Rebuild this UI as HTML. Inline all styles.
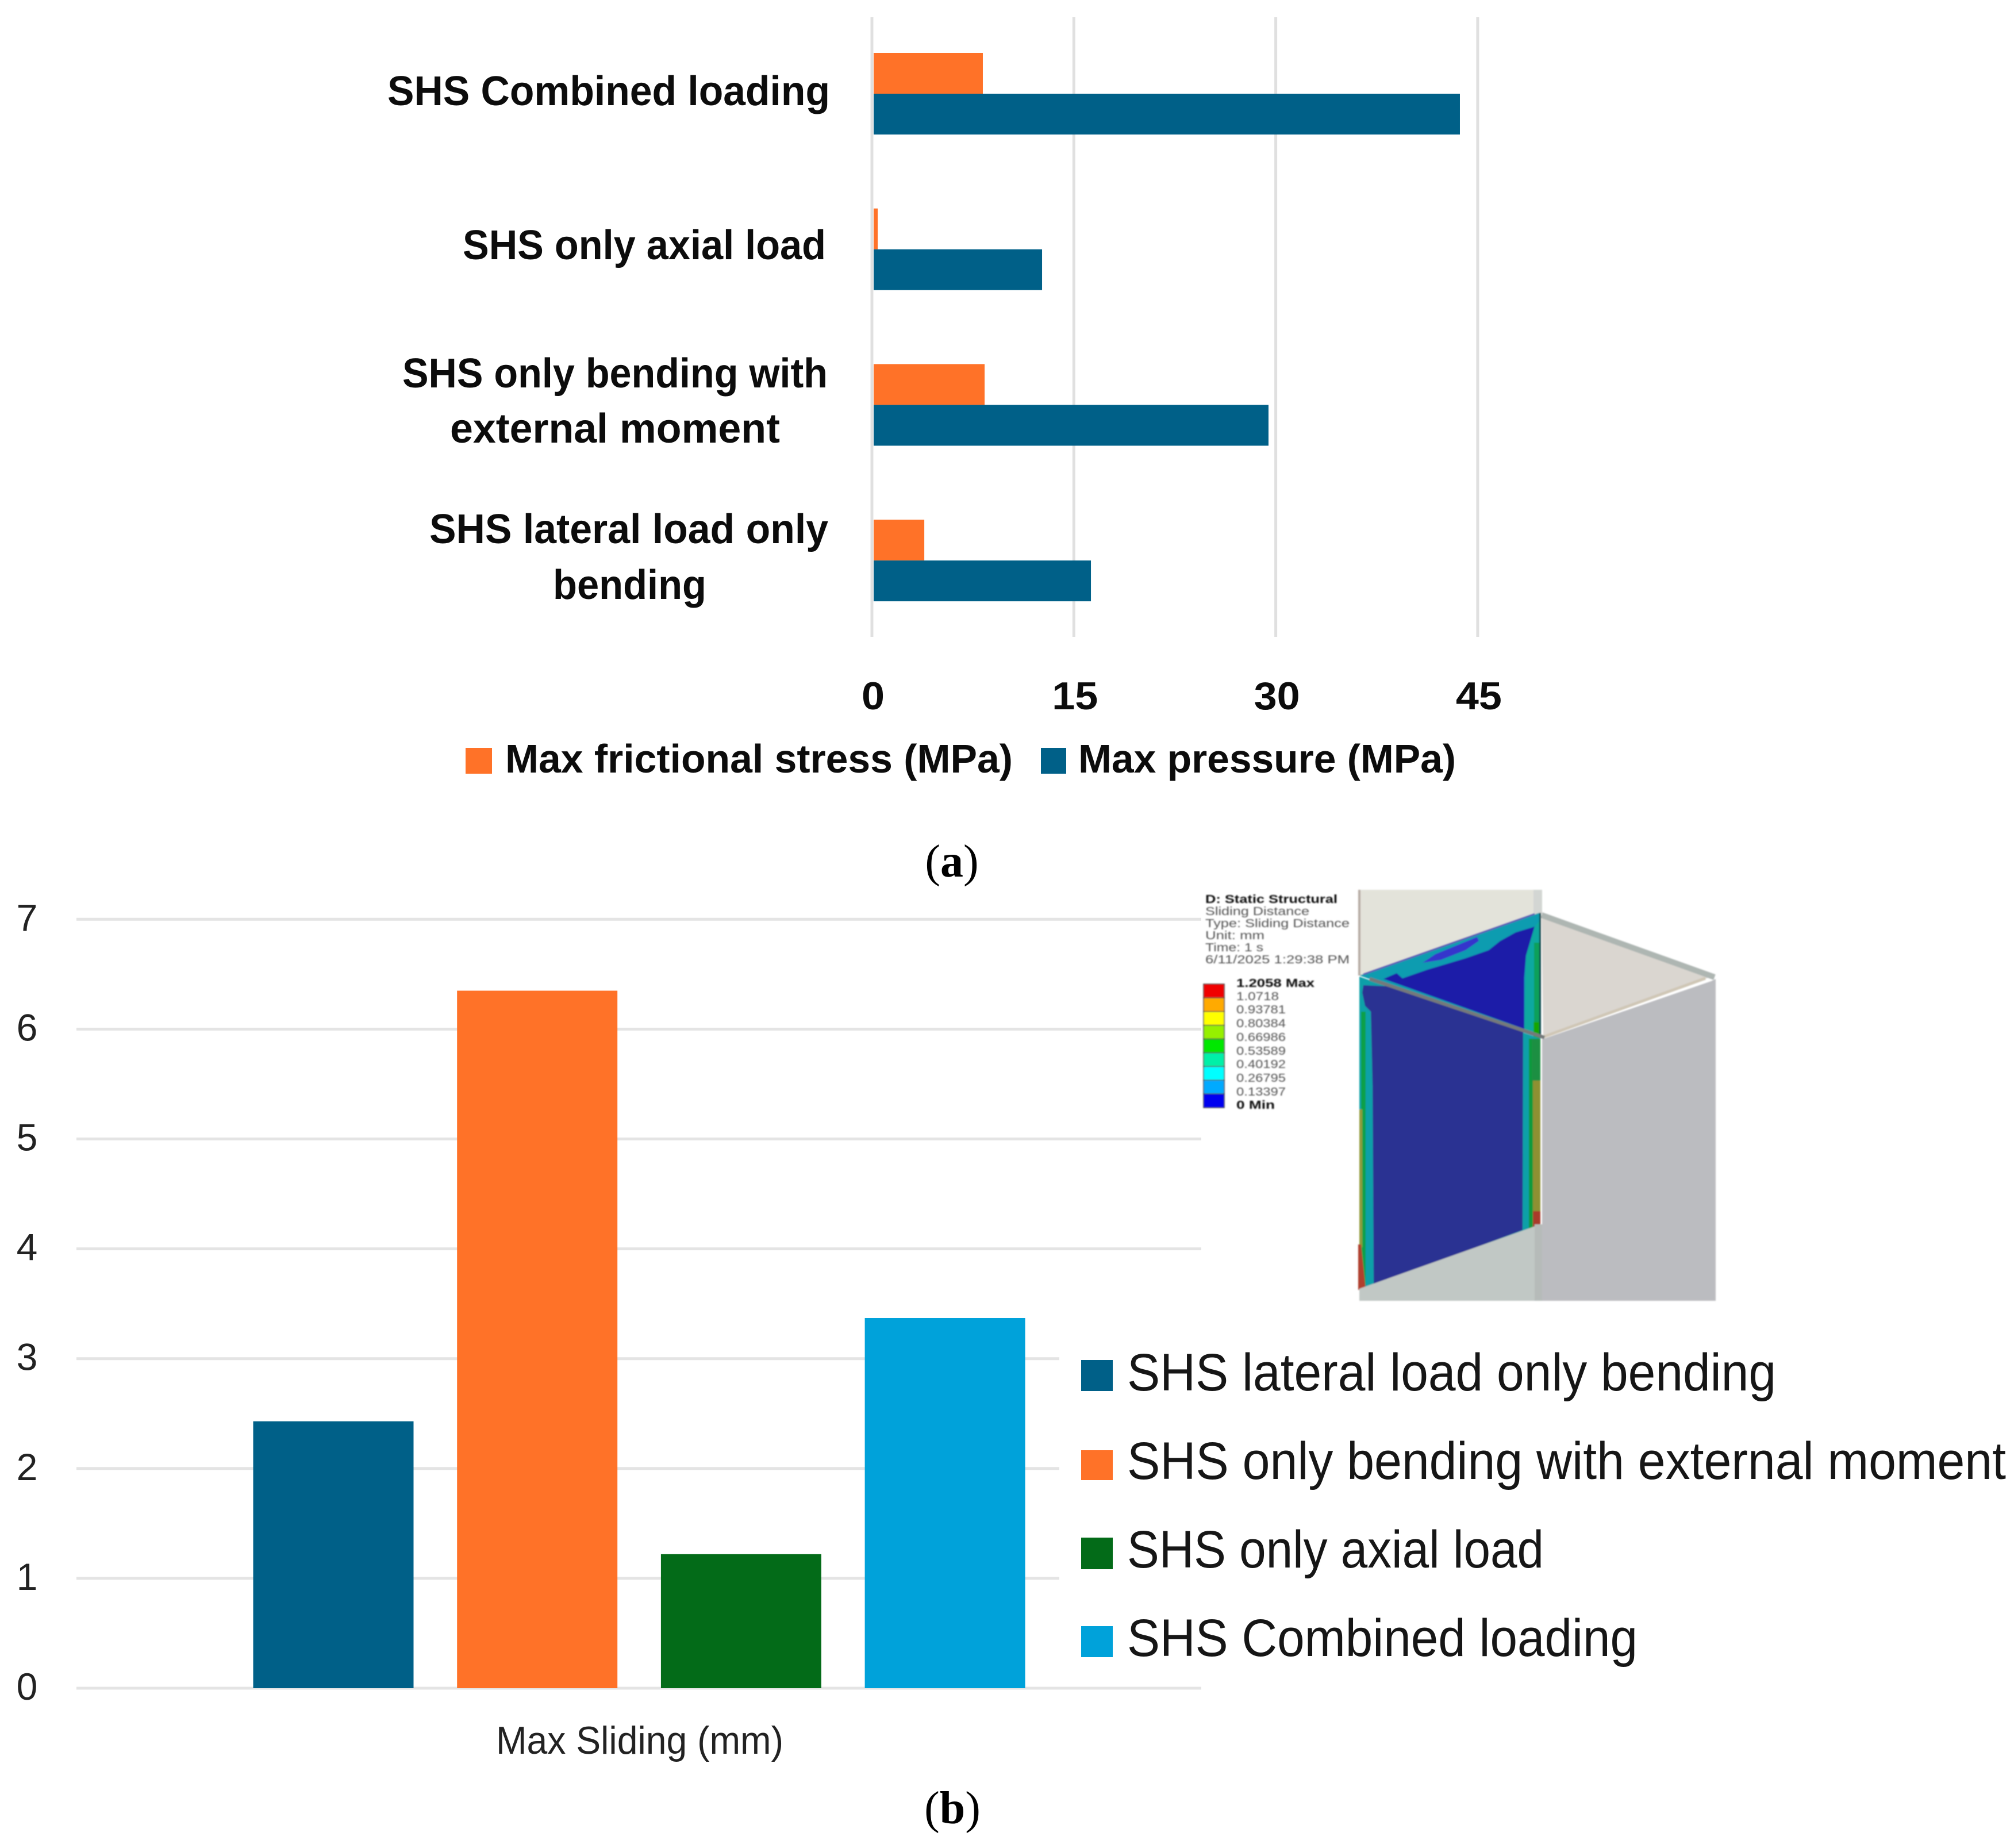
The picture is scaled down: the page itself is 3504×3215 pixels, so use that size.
<!DOCTYPE html>
<html lang="en">
<head>
<meta charset="utf-8">
<title>SHS contact results</title>
<style>
  html, body { margin: 0; padding: 0; background: #ffffff; }
  svg { display: block; }
  text { font-family: "Liberation Sans", sans-serif; }
  .bold-label { font-weight: 700; font-size: 72px; fill: #0c0c0c; }
  .bold-legend { font-weight: 700; font-size: 70px; fill: #0c0c0c; }
  .bold-tick { font-weight: 700; font-size: 68px; fill: #0c0c0c; }
  .legend-big { font-size: 92px; fill: #161616; }
  .panel-tag { font-family: "Liberation Serif", serif; font-size: 80px; fill: #000000; }
  .inset-text { font-size: 20px; fill: #555555; }
  .inset-strong { font-size: 20px; font-weight: 700; fill: #111111; }
</style>
</head>
<body>
<svg xmlns="http://www.w3.org/2000/svg" width="3504" height="3215" viewBox="0 0 3504 3215">
  <defs>
    <filter id="soft" x="-2%" y="-2%" width="104%" height="104%"><feGaussianBlur stdDeviation="1.1"/></filter>
  </defs>

  <g id="chart-a">
    <g id="a-grid"></g>
    <g id="a-bars"></g>
    <g id="a-ticks"></g>
    <g>
      <text class="bold-label" x="674" y="183" textLength="770" lengthAdjust="spacingAndGlyphs">SHS Combined loading</text>
      <text class="bold-label" x="805" y="451" textLength="632" lengthAdjust="spacingAndGlyphs">SHS only axial load</text>
      <text class="bold-label" x="700" y="674" textLength="740" lengthAdjust="spacingAndGlyphs">SHS only bending with</text>
      <text class="bold-label" x="783" y="770" textLength="574" lengthAdjust="spacingAndGlyphs">external moment</text>
      <text class="bold-label" x="747" y="945" textLength="694" lengthAdjust="spacingAndGlyphs">SHS lateral load only</text>
      <text class="bold-label" x="962" y="1042" textLength="267" lengthAdjust="spacingAndGlyphs">bending</text>
    </g>
    <g>
      <rect x="810" y="1301" width="46" height="45" fill="#ff7228"/>
      <text class="bold-legend" x="879" y="1344" textLength="883" lengthAdjust="spacingAndGlyphs">Max frictional stress (MPa)</text>
      <rect x="1811" y="1301" width="44" height="45" fill="#006088"/>
      <text class="bold-legend" x="1876" y="1344" textLength="657" lengthAdjust="spacingAndGlyphs">Max pressure (MPa)</text>
    </g>
  </g>
  <text class="panel-tag" x="1656" y="1525" text-anchor="middle">(<tspan font-weight="700">a</tspan>)</text>

  <g id="chart-b">
    <g id="b-grid"></g>
    <rect x="1843" y="2290" width="260" height="600" fill="#ffffff"/>
    <g id="b-bars"></g>
    <g id="b-ticks"></g>
    <text x="863" y="3051" font-size="68" fill="#222222" textLength="500" lengthAdjust="spacingAndGlyphs">Max Sliding (mm)</text>
    <g>
      <rect x="1881" y="2366" width="55" height="54" fill="#006088"/>
      <text class="legend-big" x="1961" y="2419" textLength="1129" lengthAdjust="spacingAndGlyphs">SHS lateral load only bending</text>
      <rect x="1881" y="2523" width="55" height="52" fill="#ff7228"/>
      <text class="legend-big" x="1961" y="2573" textLength="1529" lengthAdjust="spacingAndGlyphs">SHS only bending with external moment</text>
      <rect x="1881" y="2675" width="55" height="55" fill="#036b18"/>
      <text class="legend-big" x="1961" y="2727" textLength="725" lengthAdjust="spacingAndGlyphs">SHS only axial load</text>
      <rect x="1881" y="2829" width="55" height="54" fill="#00a2da"/>
      <text class="legend-big" x="1961" y="2881" textLength="888" lengthAdjust="spacingAndGlyphs">SHS Combined loading</text>
    </g>
  </g>
  <text class="panel-tag" x="1657" y="3172" text-anchor="middle">(<tspan font-weight="700">b</tspan>)</text>

  <g>
    <g filter="url(#soft)">
      <polygon points="2365,1548 2672,1548 2678,1588 2365,1697" fill="#e3e3da"/>
      <rect x="2668" y="1548" width="15" height="42" fill="#d3d6d3"/>
      <rect x="2363" y="1548" width="4" height="149" fill="#b8aca4"/>
      <polygon points="2682,1597 2975,1700 2685,1804" fill="#dad6d0"/>
      <line x1="2682" y1="1592" x2="2983" y2="1700" stroke="#aeb6b2" stroke-width="10"/>
      <polygon points="2683,1808 2977,1707 2985,1703 2985,2263 2683,2263" fill="#bbbcc0"/>
      <line x1="2685" y1="1804" x2="2967" y2="1702" stroke="#cfc6b5" stroke-width="5"/>

      <polygon points="2365,1697 2678,1588 2680,1807" fill="#0f9cb0"/>
      <polygon points="2407,1703 2430,1693 2440,1702 2483,1687 2550,1667 2590,1653 2610,1637 2637,1622 2670,1612 2655,1663 2652,1700 2652,1790" fill="#1c1fa8"/>
      <polygon points="2475,1675 2497,1660 2570,1630 2573,1637 2550,1653 2507,1670" fill="#3535cc"/>
      <line x1="2372" y1="1695" x2="2670" y2="1590" stroke="#5a58b8" stroke-width="3"/>
      <polygon points="2655,1663 2670,1612 2680,1600 2680,1800 2652,1795" fill="#10a8a0"/>
      <rect x="2669" y="1640" width="10" height="140" fill="#0aa05a"/>
      <rect x="2668" y="1778" width="12" height="28" fill="#14a500"/>
      <rect x="2678" y="1588" width="3" height="218" fill="#0a4a50"/>

      <polygon points="2365,1699 2680,1807 2680,2132 2365,2244" fill="#10a0a8"/>
      <polygon points="2370,1727 2372,1714 2420,1716 2650,1795 2649,2140 2390,2236 2388,1890 2385,1760 2375,1750" fill="#2c3192"/>
      <rect x="2368" y="1760" width="8" height="476" fill="#0fa04a"/>
      <rect x="2365" y="1930" width="5" height="240" fill="#8f9a3a"/>
      <polygon points="2363,2165 2368,2165 2376,2244 2363,2244" fill="#b0402f"/>
      <rect x="2660" y="1807" width="8" height="330" fill="#0a9a3c"/>
      <rect x="2665" y="1807" width="15" height="75" fill="#1b8f42"/>
      <rect x="2667" y="1880" width="13" height="227" fill="#8e9030"/>
      <rect x="2667" y="2107" width="13" height="28" fill="#a83a2a"/>

      <polygon points="2365,2242 2680,2130 2683,2263 2365,2263" fill="#c1c8c5"/>
      <rect x="2670" y="2130" width="13" height="133" fill="#b6bbb9"/>
      <line x1="2383" y1="1703" x2="2687" y2="1805" stroke="#75797a" stroke-width="6"/>
    </g>
    <g filter="url(#soft)">
      <g id="fea-scale"></g>
      <text class="inset-strong" x="2097" y="1571" textLength="230" lengthAdjust="spacingAndGlyphs">D: Static Structural</text>
      <text class="inset-text" x="2097" y="1592" textLength="181" lengthAdjust="spacingAndGlyphs">Sliding Distance</text>
      <text class="inset-text" x="2097" y="1613" textLength="251" lengthAdjust="spacingAndGlyphs">Type: Sliding Distance</text>
      <text class="inset-text" x="2097" y="1634" textLength="103" lengthAdjust="spacingAndGlyphs">Unit: mm</text>
      <text class="inset-text" x="2097" y="1655" textLength="101" lengthAdjust="spacingAndGlyphs">Time: 1 s</text>
      <text class="inset-text" x="2097" y="1676" textLength="251" lengthAdjust="spacingAndGlyphs">6/11/2025 1:29:38 PM</text>
      <text class="inset-strong" x="2151" y="1717" textLength="136" lengthAdjust="spacingAndGlyphs">1.2058 Max</text>
      <text class="inset-text" x="2151" y="1740" textLength="74" lengthAdjust="spacingAndGlyphs">1.0718</text>
      <text class="inset-text" x="2151" y="1763" textLength="86" lengthAdjust="spacingAndGlyphs">0.93781</text>
      <text class="inset-text" x="2151" y="1787" textLength="86" lengthAdjust="spacingAndGlyphs">0.80384</text>
      <text class="inset-text" x="2151" y="1811" textLength="86" lengthAdjust="spacingAndGlyphs">0.66986</text>
      <text class="inset-text" x="2151" y="1835" textLength="86" lengthAdjust="spacingAndGlyphs">0.53589</text>
      <text class="inset-text" x="2151" y="1858" textLength="86" lengthAdjust="spacingAndGlyphs">0.40192</text>
      <text class="inset-text" x="2151" y="1882" textLength="86" lengthAdjust="spacingAndGlyphs">0.26795</text>
      <text class="inset-text" x="2151" y="1906" textLength="86" lengthAdjust="spacingAndGlyphs">0.13397</text>
      <text class="inset-strong" x="2151" y="1929" textLength="67" lengthAdjust="spacingAndGlyphs">0 Min</text>
    </g>
  </g>
</svg>

<script>
// Panel (a): values, top category first
const stressCategories = ['combined', 'axial', 'bending', 'lateral'];
const frictionalStress = [8.24, 0.43, 8.37, 3.89];
const maxPressure = [43.68, 12.64, 29.46, 16.27];
const stressTicks = [0, 15, 30, 45];

// Panel (b): values
const slidingCategories = ['lateral', 'bending', 'axial', 'combined'];
const maxSliding = [2.43, 6.35, 1.22, 3.37];
const slidingTicks = [0, 1, 2, 3, 4, 5, 6, 7];

// Inset colour scale, top to bottom
const feaBands = ['#f00000', '#ffaa00', '#ffff00', '#96f000', '#00e800', '#00f0a8', '#00ffff', '#00aaff', '#0000f0'];

const NS = 'http://www.w3.org/2000/svg';
function mk(tag, attrs, parent) {
  const node = document.createElementNS(NS, tag);
  for (const k in attrs) node.setAttribute(k, attrs[k]);
  parent.appendChild(node);
  return node;
}

// Axis functions, panel (a)
const ax = v => 1517 + v * 23.42;
const ay = i => 163 + i * 270.7;
const barH = 71;

const aGrid = document.getElementById('a-grid');
const aTicks = document.getElementById('a-ticks');
stressTicks.forEach(t => {
  const line = mk('line', { x1: ax(t), x2: ax(t), y1: 30, y2: 1108, stroke: '#e0e0e0', 'stroke-width': 5 }, aGrid);
  
  
  const label = String(t);
  const txt = mk('text', { x: ax(t) + 2, y: 1234, 'text-anchor': 'middle', class: 'bold-tick', textLength: label.length * 40, lengthAdjust: 'spacingAndGlyphs' }, aTicks);
  txt.textContent = label;
  
  
});

const aBars = document.getElementById('a-bars');
stressCategories.forEach((cat, i) => {
  const start = ax(0) + 3;
  const fr = mk('rect', { x: start, y: ay(i) - barH, width: Math.max(0, ax(frictionalStress[i]) - start), height: barH, fill: '#ff7228' }, aBars);
  
  
  const pr = mk('rect', { x: start, y: ay(i), width: Math.max(0, ax(maxPressure[i]) - start), height: barH, fill: '#006088' }, aBars);
  
  
});

// Axis functions, panel (b)
const by = v => 2937 - v * 191.1;
const bx = i => 580 + i * 354.7;
const slidingColours = ['#006088', '#ff7228', '#036b18', '#00a2da'];
const bWidth = 279;

const bGrid = document.getElementById('b-grid');
const bTicks = document.getElementById('b-ticks');
slidingTicks.forEach(t => {
  const line = mk('line', { x1: 133, x2: 2090, y1: by(t), y2: by(t), stroke: '#e4e4e4', 'stroke-width': 5 }, bGrid);
  
  
  const txt = mk('text', { x: 47, y: by(t) + 20, 'text-anchor': 'middle', 'font-size': 66, fill: '#222222' }, bTicks);
  txt.textContent = String(t);
  
  
});

const bBars = document.getElementById('b-bars');
slidingCategories.forEach((cat, i) => {
  const bar = mk('rect', { x: bx(i) - bWidth / 2, y: by(maxSliding[i]), width: bWidth, height: by(0) - by(maxSliding[i]), fill: slidingColours[i] }, bBars);
  
  
});

// Inset colour scale
const scale = document.getElementById('fea-scale');
const bandH = 215 / feaBands.length;
feaBands.forEach((c, i) => {
  const band = mk('rect', { x: 2094, y: 1712 + i * bandH, width: 36, height: bandH, fill: c, stroke: '#444444', 'stroke-width': 1.5 }, scale);
  
  
});
</script>
</body>
</html>
